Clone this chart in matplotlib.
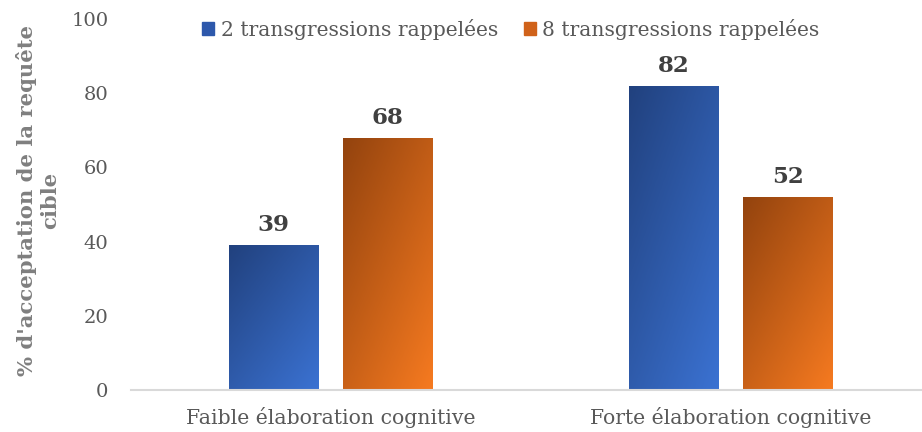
import numpy as np
import matplotlib.pyplot as plt
from matplotlib.colors import LinearSegmentedColormap
from matplotlib.patches import Rectangle

# Data
categories = ['Faible élaboration cognitive', 'Forte élaboration cognitive']
series_names = ['2 transgressions rappelées', '8 transgressions rappelées']
values_2 = [39, 82]
values_8 = [68, 52]
yticks = [0, 20, 40, 60, 80, 100]

# Gradient colours (dark top-left -> light bottom-right)
blue_cmap = LinearSegmentedColormap.from_list('blue_grad', ['#21417e', '#3b72d2'])
orange_cmap = LinearSegmentedColormap.from_list('orange_grad', ['#93430e', '#f67a20'])

TEXT = '#595959'
SERIF = ['DejaVu Serif']

fig = plt.figure(figsize=(9.22, 4.32), dpi=100)
ax = fig.add_axes([130.5 / 922, 42 / 432, 800 / 922, 371 / 432])

x = np.arange(len(categories))
offset = 0.1425
width = 0.225

def gradient_bar(ax, xc, h, cmap):
    bar = ax.bar(xc, h, width, color='none', edgecolor='none')[0]
    # diagonal gradient filling the bar
    u = np.linspace(0, 1, 64)
    v = np.linspace(0, 1, 128)
    uu, vv = np.meshgrid(u, v)
    grad = (uu * 0.45 + vv * 0.55)
    im = ax.imshow(grad, cmap=cmap, vmin=0, vmax=1, origin='upper',
                   extent=[xc - width / 2, xc + width / 2, 0, h],
                   aspect='auto', interpolation='bilinear', zorder=2)
    im.set_clip_path(bar)
    ax.annotate(str(h), (xc, h), xytext=(0, 14.5), textcoords='offset points',
                ha='center', va='center', fontsize=16.5, fontweight='bold',
                color='#404040', family=SERIF)

for i in range(len(categories)):
    gradient_bar(ax, x[i] - offset, values_2[i], blue_cmap)
    gradient_bar(ax, x[i] + offset, values_8[i], orange_cmap)

ax.set_xlim(-0.5, 1.5)
ax.set_ylim(0, 100)
ax.set_yticks(yticks)
ax.set_xticks(x)
ax.set_xticklabels(categories)

for side in ['top', 'right', 'left']:
    ax.spines[side].set_visible(False)
ax.spines['bottom'].set_color('#d9d9d9')
ax.spines['bottom'].set_linewidth(1.5)
ax.tick_params(axis='both', length=0)
ax.tick_params(axis='y', pad=16, labelsize=14, labelcolor=TEXT)
ax.tick_params(axis='x', pad=12, labelsize=14.7, labelcolor=TEXT)
for lab in ax.get_yticklabels() + ax.get_xticklabels():
    lab.set_family(SERIF)

fig.text(38 / 922, 1 - 200 / 432, "% d'acceptation de la requête\ncible",
         rotation=90, ha='center', va='center', fontsize=15.2, fontweight='bold',
         color='#7f7f7f', family=SERIF, linespacing=1.15, multialignment='center')

handles = [Rectangle((0, 0), 1, 1, color='#2d58ab'),
           Rectangle((0, 0), 1, 1, color='#d0621a')]
fig.legend(handles, series_names, loc='center', bbox_to_anchor=(511 / 922, 1 - 29 / 432),
           ncol=2, frameon=False, prop={'family': SERIF, 'size': 14.6},
           labelcolor=TEXT, handlelength=0.6, handleheight=0.6,
           handletextpad=0.3, columnspacing=1.3)

fig.savefig('out.png', dpi=100)
